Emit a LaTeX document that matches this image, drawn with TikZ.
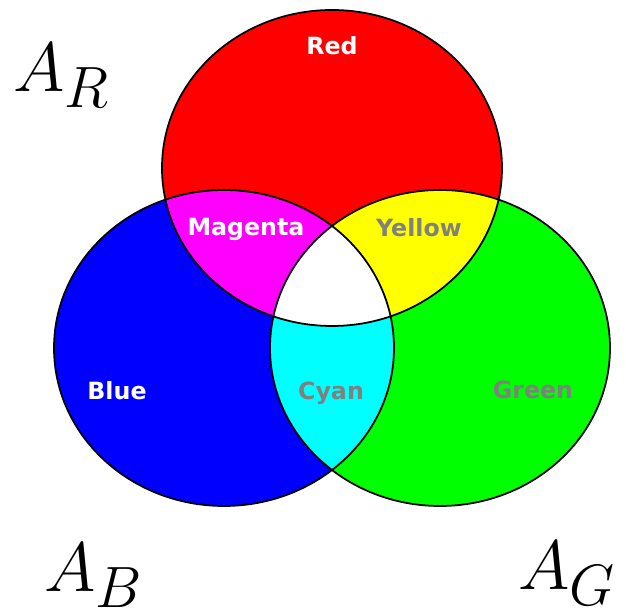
\documentclass[tikz,border=0pt]{standalone}
\usepackage{amsmath}
\usepackage{fontspec}
\newfontfamily\lblfont{DejaVu Sans}
\definecolor{venncyan}{RGB}{0,255,255}
\definecolor{vennmagenta}{RGB}{255,0,255}
\definecolor{vennyellow}{RGB}{255,255,0}
\definecolor{venngreen}{RGB}{0,255,0}

\begin{document}
\begin{tikzpicture}[x=0.02cm, y=0.02cm,
    vennsize/.style={x radius=170, y radius=158},
    onlbl/.style={anchor=base, inner sep=0pt, text=white, font=\lblfont\bfseries\fontsize{13.5}{15}\selectfont},
    offlbl/.style={onlbl, text=gray},
    setname/.style={anchor=base west, inner sep=0pt, scale=1.6, font=\fontsize{24.88}{30}\selectfont}]
                \useasboundingbox (0,0) rectangle (626,614);

                \coordinate (r) at (332,446);
                \coordinate (b) at (224,266);
                \coordinate (g) at (440,266);

                \fill[red] (r) ellipse [vennsize];
                \fill[blue] (b) ellipse [vennsize];
                \fill[venngreen] (g) ellipse [vennsize];

                \begin{scope}
                    \clip (b) ellipse [vennsize];
                    \fill[venncyan] (g) ellipse [vennsize];
                \end{scope}
                \begin{scope}
                    \clip (r) ellipse [vennsize];
                    \fill[vennmagenta] (b) ellipse [vennsize];
                    \fill[vennyellow] (g) ellipse [vennsize];
                    \clip (b) ellipse [vennsize];
                    \fill[white] (g) ellipse [vennsize];
                \end{scope}

                \draw[line width=1pt] (r) ellipse [vennsize];
                \draw[line width=1pt] (b) ellipse [vennsize];
                \draw[line width=1pt] (g) ellipse [vennsize];

                \node[onlbl] (redlbl) at (332,559) {Red};
                \node[onlbl] (magentalbl) at (246,378) {Magenta};
                \node[offlbl] (yellowlbl) at (419,377) {Yellow};
                \node[onlbl] (bluelbl) at (117,214) {Blue};
                \node[offlbl] (cyanlbl) at (331,214) {Cyan};
                \node[offlbl] (greenlbl) at (533,215) {Green};

                \node[setname] (ar) at (13,522) {$A_R$};
                \node[setname] (ab) at (44,22) {$A_B$};
                \node[setname] (ag) at (518,24) {$A_G$};
            \end{tikzpicture}
\end{document}
